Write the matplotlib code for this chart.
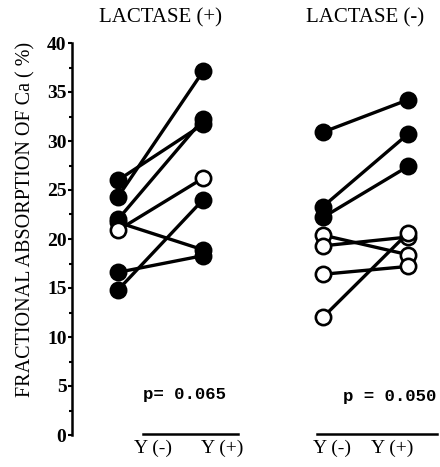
import matplotlib
matplotlib.use("Agg")
import matplotlib.pyplot as plt

# fractional Ca absorption (%), each subject: before -> after yogurt
group_titles = ["LACTASE (+)", "LACTASE (-)"]
cond_labels = ["Y (-)", "Y (+)"]
p_texts = ["p= 0.065", "p = 0.050"]

lp_before = [26.0, 24.3, 22.0, 21.7, 20.9, 16.6, 14.8]
lp_after = [31.7, 37.1, 32.2, 18.9, 26.2, 18.3, 24.0]
lp_open = [False, False, False, False, True, False, False]

lm_before = [30.9, 23.3, 22.2, 20.4, 19.3, 16.4, 12.0]
lm_after = [34.2, 30.7, 27.4, 18.4, 20.2, 17.2, 20.6]
lm_open = [False, False, False, True, True, True, True]

yticks = [0, 5, 10, 15, 20, 25, 30, 35, 40]

serif = "Liberation Serif"
mono = "Liberation Mono"

fig = plt.figure(figsize=(4.4, 4.67), dpi=100)
ax = fig.add_axes([72 / 440, 32 / 467, 368 / 440, 392 / 467])

groups = [(lp_before, lp_after, lp_open), (lm_before, lm_after, lm_open)]
xpos = [(0.0, 1.0), (2.41, 3.41)]

for (before, after, is_open), (x0, x1) in zip(groups, xpos):
    for b, a in zip(before, after):
        ax.plot([x0, x1], [b, a], color="black", lw=2.4, zorder=2,
                solid_capstyle="round")
    for b, a, o in zip(before, after, is_open):
        face = "white" if o else "black"
        ax.plot([x0, x1], [b, a], ls="none", marker="o", ms=11,
                mfc=face, mec="black", mew=1.9, zorder=3)

ax.set_xlim(-0.541, 3.788)
ax.set_ylim(0, 40)

for s in ["top", "right", "bottom"]:
    ax.spines[s].set_visible(False)
ax.spines["left"].set_linewidth(1.8)
ax.set_xticks([])
ax.set_yticks(yticks)
ax.set_yticks([v + 2.5 for v in yticks[:-1]], minor=True)
ax.tick_params(axis="y", which="major", length=3, width=1.5, pad=1)
ax.tick_params(axis="y", which="minor", length=2, width=1.5)
for lab in ax.get_yticklabels():
    lab.set_fontfamily(serif)
    lab.set_fontsize(14)
    lab.set_fontweight("bold")

ax.set_ylabel("FRACTIONAL ABSORPTION OF Ca ( %)", fontfamily=serif,
              fontsize=14.5)
ax.yaxis.set_label_coords(-0.1, 0.55)

# group titles
title_x = [0.5, 2.91]
for tx, t in zip(title_x, group_titles):
    ax.text(tx, 42.6, t, ha="center", va="center", fontfamily=serif,
            fontsize=15, clip_on=False)

# p values
ax.text(0.78, 4.1, p_texts[0], ha="center", va="center", fontfamily=mono,
        fontweight="bold", fontsize=12.5)
ax.text(3.2, 3.9, p_texts[1], ha="center", va="center", fontfamily=mono,
        fontweight="bold", fontsize=12.5)

# condition bars and labels under each group
bar_spans = [(0.294, 1.412), (2.341, 3.753)]
cond_x = [(0.41, 1.22), (2.52, 3.23)]
for (b0, b1), (c0, c1) in zip(bar_spans, cond_x):
    ax.plot([b0, b1], [0.1, 0.1], color="black", lw=1.8, clip_on=False)
    for cx, cl in zip((c0, c1), cond_labels):
        ax.text(cx, -1.4, cl, ha="center", va="center", fontfamily=serif,
                fontsize=14, clip_on=False)

fig.savefig("out.png", dpi=100)
